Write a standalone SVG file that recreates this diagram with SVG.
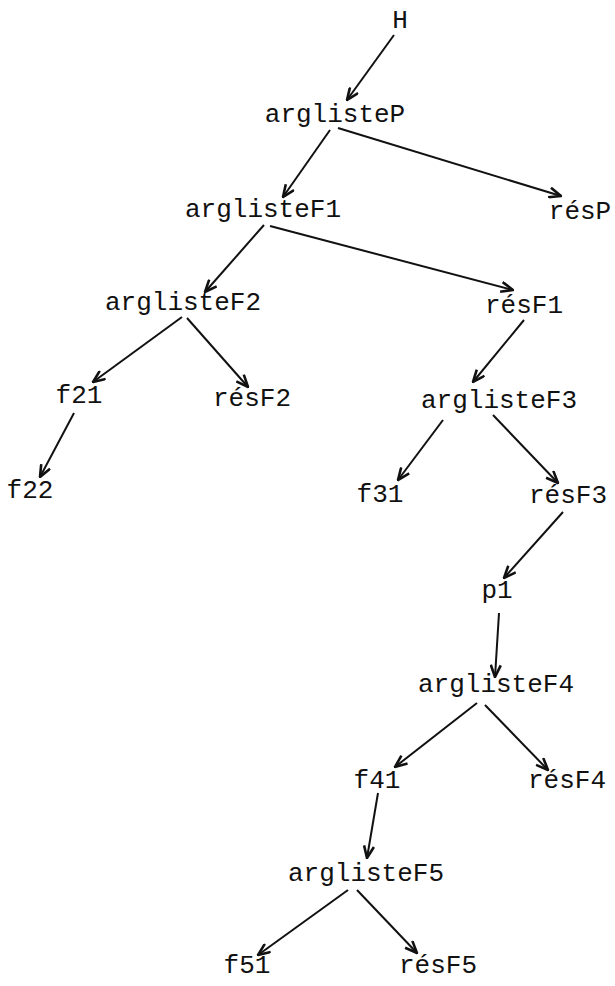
<svg xmlns="http://www.w3.org/2000/svg" width="615" height="986" viewBox="0 0 615 986">
<style>
text{font-family:"Liberation Mono","DejaVu Sans Mono",monospace;font-size:26px;fill:#111;text-anchor:middle}
.e line{stroke:#111;stroke-width:2;fill:none;marker-end:url(#a)}
</style>
<defs>
<marker id="a" viewBox="0 0 14 12" refX="13" refY="6" markerWidth="14" markerHeight="12" markerUnits="userSpaceOnUse" orient="auto">
<path d="M1,1 L13,6 L1,11" fill="none" stroke="#111" stroke-width="2.6" stroke-linejoin="miter"/>
</marker>
</defs>
<rect width="615" height="986" fill="#fff"/>
<g class="e" id="connectors">
<line x1="394" y1="35" x2="347" y2="100"/>
<line x1="330" y1="130" x2="283" y2="197"/>
<line x1="338" y1="128" x2="561" y2="196"/>
<line x1="264" y1="225" x2="205" y2="292"/>
<line x1="270" y1="226" x2="513" y2="290"/>
<line x1="182" y1="317" x2="93" y2="382"/>
<line x1="187" y1="318" x2="248" y2="387"/>
<line x1="74" y1="413" x2="40" y2="477"/>
<line x1="524" y1="320" x2="473" y2="382"/>
<line x1="443" y1="420" x2="398" y2="480"/>
<line x1="493" y1="415" x2="558" y2="483"/>
<line x1="563" y1="512" x2="504" y2="578"/>
<line x1="499" y1="613" x2="495" y2="677"/>
<line x1="477" y1="703" x2="395" y2="767"/>
<line x1="485" y1="705" x2="548" y2="770"/>
<line x1="378" y1="793" x2="367" y2="858"/>
<line x1="348" y1="890" x2="258" y2="955"/>
<line x1="357" y1="890" x2="417" y2="953"/>
</g>
<g id="H"><text x="400" y="28">H</text></g>
<g id="arglisteP"><text x="335" y="122">arglisteP</text></g>
<g id="resP"><text x="580" y="219">résP</text></g>
<g id="arglisteF1"><text x="263" y="217">arglisteF1</text></g>
<g id="resF1"><text x="524" y="313">résF1</text></g>
<g id="arglisteF2"><text x="183" y="310">arglisteF2</text></g>
<g id="f21"><text x="79" y="403">f21</text></g>
<g id="resF2"><text x="252" y="406">résF2</text></g>
<g id="f22"><text x="30" y="498">f22</text></g>
<g id="arglisteF3"><text x="499" y="408">arglisteF3</text></g>
<g id="f31"><text x="380" y="502">f31</text></g>
<g id="resF3"><text x="568" y="503">résF3</text></g>
<g id="p1"><text x="497" y="598">p1</text></g>
<g id="arglisteF4"><text x="496" y="692">arglisteF4</text></g>
<g id="f41"><text x="377" y="788">f41</text></g>
<g id="resF4"><text x="567" y="788">résF4</text></g>
<g id="arglisteF5"><text x="366" y="881">arglisteF5</text></g>
<g id="f51"><text x="247" y="973">f51</text></g>
<g id="resF5"><text x="438" y="973">résF5</text></g>
</svg>
